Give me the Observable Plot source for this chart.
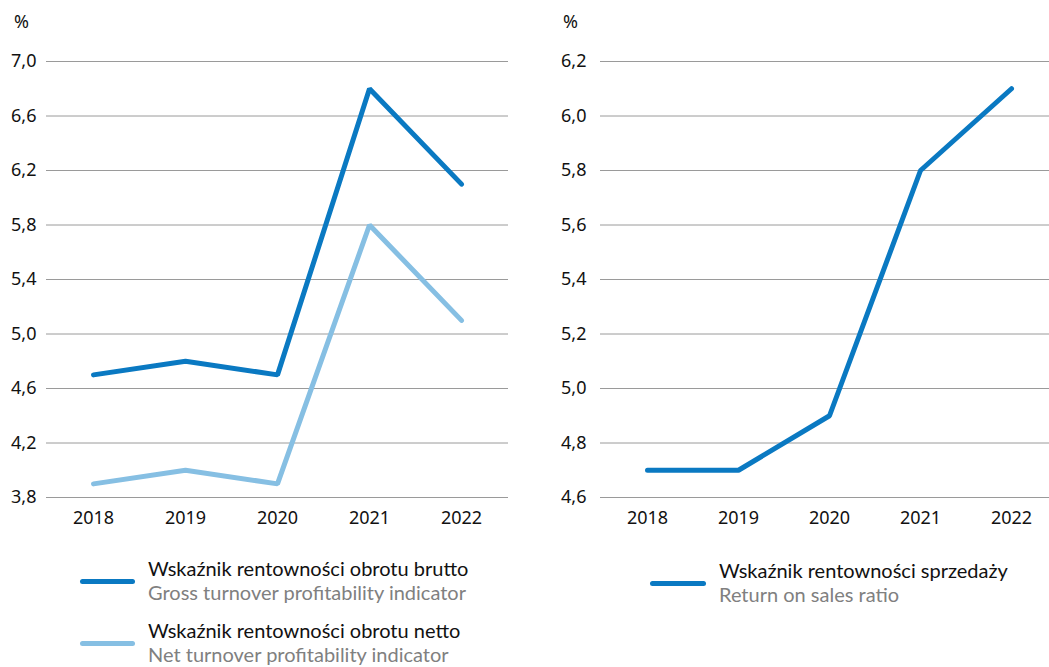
<!DOCTYPE html>
<html>
<head>
<meta charset="utf-8">
<script src="https://cdn.jsdelivr.net/npm/d3@7"></script>
<script src="https://cdn.jsdelivr.net/npm/@observablehq/plot@0.6"></script>
<style>
  body { margin: 0; background: #fff; font-family: "Noto Sans", sans-serif; }
  #wrap { position: relative; width: 1049px; height: 667px; overflow: hidden; }
  .panel { position: absolute; top: 0; }
  .pct { position: absolute; font-size: 18px; color: #111; line-height: 22px; }
  .leg { position: absolute; }
  .leg .sw { position: absolute; height: 5px; border-radius: 3px; }
  .leg .t1, .leg .t2 { position: absolute; white-space: nowrap; font-family: Lato, sans-serif; font-size: 20px; line-height: 24px; }
  .leg .t1 { color: #111; }
  .leg .t2 { color: #808080; }
</style>
</head>
<body>
<div id="wrap"></div>
<script>
const years = ["2018", "2019", "2020", "2021", "2022"];
const grossTurnover = [4.7, 4.8, 4.7, 6.8, 6.1];
const netTurnover = [3.9, 4.0, 3.9, 5.8, 5.1];
const returnOnSales = [4.7, 4.7, 4.9, 5.8, 6.1];
const leftTicks = [3.8, 4.2, 4.6, 5.0, 5.4, 5.8, 6.2, 6.6, 7.0];
const rightTicks = [4.6, 4.8, 5.0, 5.2, 5.4, 5.6, 5.8, 6.0, 6.2];
const leftSeries = [
  {pl: "Wskaźnik rentowności obrotu brutto", en: "Gross turnover profitability indicator", values: grossTurnover, color: "#0a79c2"},
  {pl: "Wskaźnik rentowności obrotu netto", en: "Net turnover profitability indicator", values: netTurnover, color: "#86bfe3"}
];
const rightSeries = [
  {pl: "Wskaźnik rentowności sprzedaży", en: "Return on sales ratio", values: returnOnSales, color: "#0a79c2"}
];

const fmt = d => d.toFixed(1).replace(".", ",");
const wrap = document.getElementById("wrap");

function panel(series, ticks, opts) {
  const data = series.flatMap(s => s.values.map((v, i) => ({year: years[i], value: v, key: s.pl, color: s.color})));
  const chart = Plot.plot({
    width: opts.width,
    height: 540,
    marginTop: 61,
    marginBottom: 43,
    marginLeft: opts.marginLeft,
    marginRight: opts.marginRight,
    style: {fontFamily: "'Noto Sans', sans-serif", fontSize: "18px", color: "#111", background: "transparent"},
    x: {type: "point", domain: years, padding: 0.5, range: opts.xRange},
    y: {domain: [ticks[0], ticks[ticks.length - 1]]},
    marks: [
      Plot.gridY(ticks, {stroke: "#9a9a9a", strokeOpacity: 1, strokeWidth: 1}),
      Plot.axisY(ticks, {tickSize: 0, tickPadding: opts.tickPad, tickFormat: fmt, label: null, fontSize: 18}),
      Plot.axisX({tickSize: 0, tickPadding: 14, label: null, fontSize: 18}),
      Plot.line(data, {x: "year", y: "value", z: "key", stroke: "color", strokeWidth: 5, strokeLinecap: "round", strokeLinejoin: "miter"})
    ]
  });
  const div = document.createElement("div");
  div.className = "panel";
  div.style.left = opts.left + "px";
  div.appendChild(chart);
  wrap.appendChild(div);

  const pct = document.createElement("div");
  pct.className = "pct";
  pct.textContent = "%";
  pct.style.left = opts.pctX + "px";
  pct.style.top = "10px";
  wrap.appendChild(pct);
}

function legend(series, x, y0, step, swW) {
  series.forEach((s, i) => {
    const g = document.createElement("div");
    g.className = "leg";
    g.style.left = x + "px";
    g.style.top = (y0 + i * step) + "px";
    g.innerHTML = `<div class="sw" style="left:0;top:23px;width:${swW}px;background:${s.color}"></div>
      <div class="t1" style="left:${swW + 13}px;top:0">${s.pl}</div>
      <div class="t2" style="left:${swW + 13}px;top:24px">${s.en}</div>`;
    wrap.appendChild(g);
  });
}

panel(leftSeries, leftTicks, {width: 524, left: 0, marginLeft: 46, marginRight: 16, tickPad: 10, xRange: [46, 508], pctX: 14});
panel(rightSeries, rightTicks, {width: 525, left: 524, marginLeft: 76, marginRight: 0, tickPad: 14, xRange: [76, 534], pctX: 563});
legend(leftSeries, 80, 556, 62, 55);
legend(rightSeries, 650, 558, 62, 56);
</script>
</body>
</html>
